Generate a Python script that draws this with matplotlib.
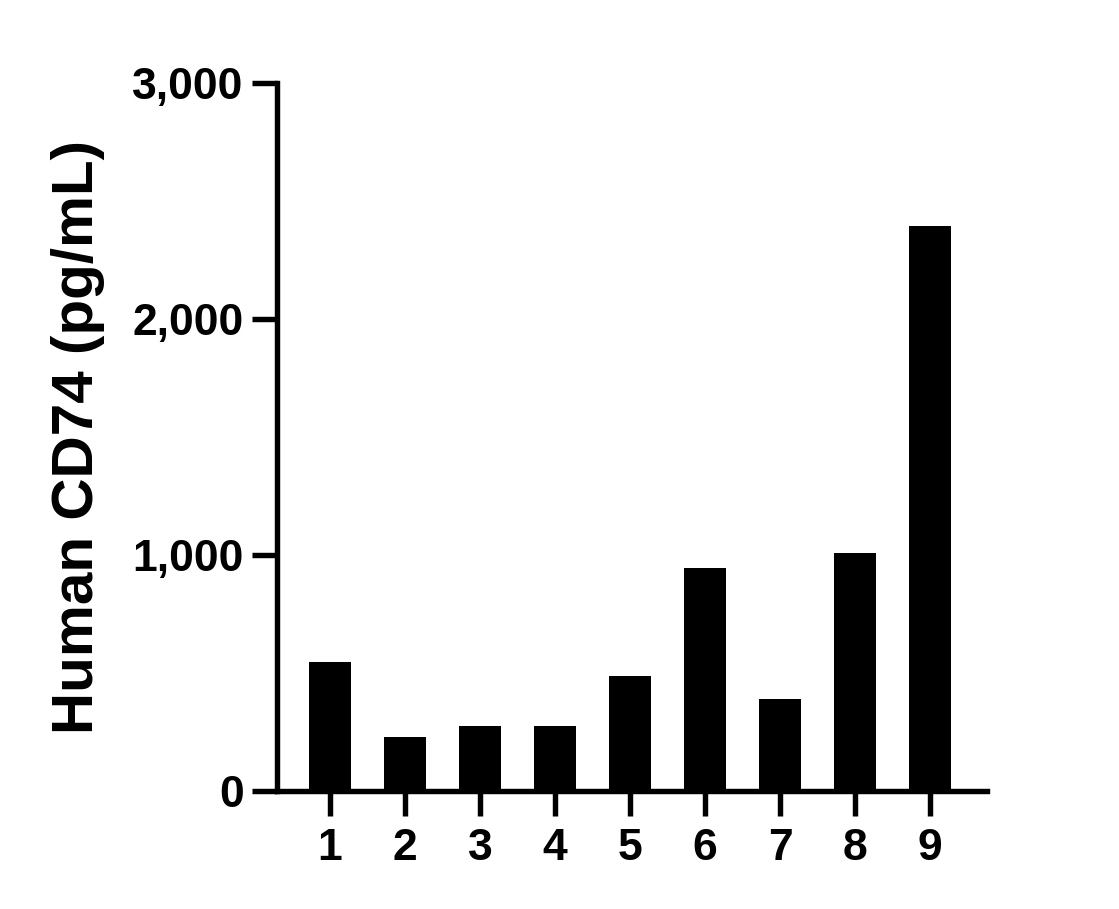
import matplotlib
matplotlib.use("Agg")
import matplotlib.pyplot as plt
from matplotlib.ticker import FuncFormatter

categories = ["1", "2", "3", "4", "5", "6", "7", "8", "9"]
values = [547, 229, 275, 275, 487, 945, 390, 1008, 2394]
y_ticks = [0, 1000, 2000, 3000]
y_label = "Human CD74 (pg/mL)"

plt.rcParams['font.family'] = ['Liberation Sans', 'DejaVu Sans']
plt.rcParams['font.weight'] = 'bold'

fig = plt.figure(figsize=(11.19, 9.09), dpi=100)
ax = fig.add_axes([277/1119, 1 - 791/909, (987 - 277)/1119, (791 - 83)/909])

x = list(range(1, len(categories) + 1))
ax.bar(x, values, width=0.56, color='black', edgecolor='none')

ax.set_xlim(1 - 0.707, 9 + 0.76)
ax.set_ylim(0, 3000)
ax.set_xticks(x)
ax.set_xticklabels(categories)
ax.set_yticks(y_ticks)
ax.yaxis.set_major_formatter(FuncFormatter(lambda v, p: f"{int(v):,}"))

for s in ['top', 'right']:
    ax.spines[s].set_visible(False)
for s in ['left', 'bottom']:
    ax.spines[s].set_linewidth(3.9)
    ax.spines[s].set_capstyle('projecting')

ax.tick_params(axis='both', length=18, width=3.9, direction='out', labelsize=32)
ax.tick_params(axis='y', pad=6)
ax.tick_params(axis='x', pad=9)
for lbl in ax.get_xticklabels() + ax.get_yticklabels():
    lbl.set_fontweight('bold')

ax.set_ylabel(y_label, fontsize=42, fontweight='bold', labelpad=20)

fig.savefig("out.png", dpi=100)
